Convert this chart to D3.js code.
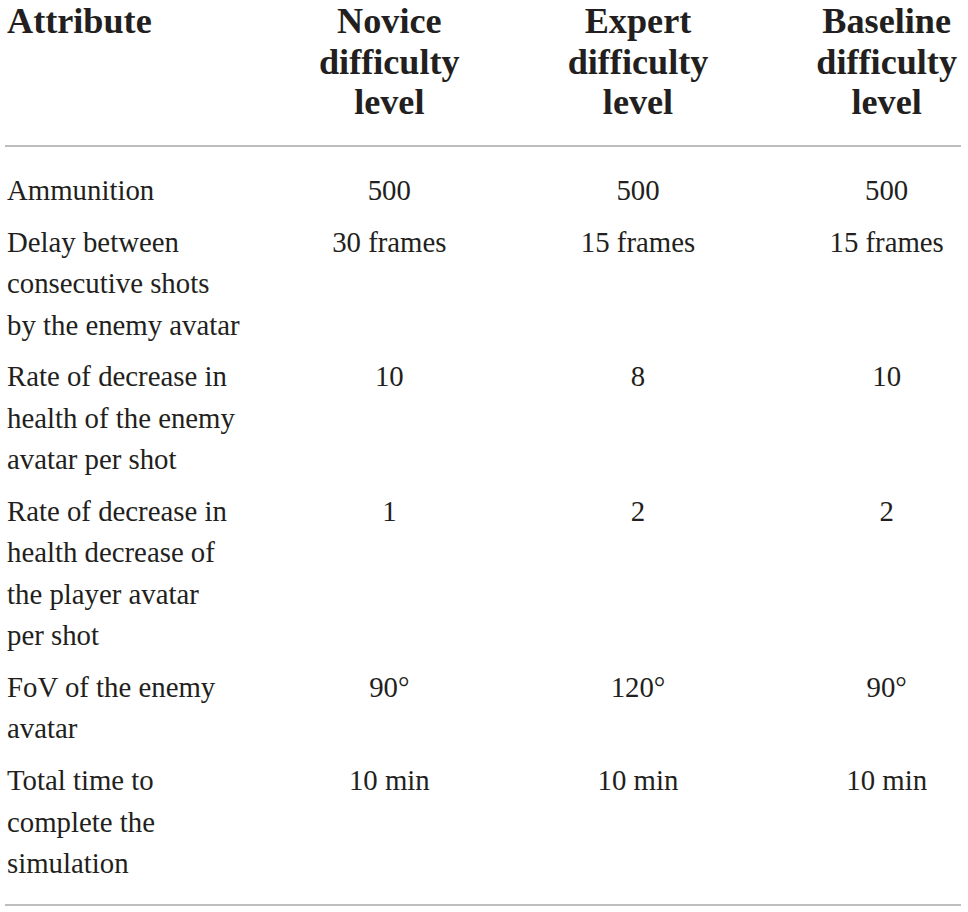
<!DOCTYPE html>
<html>
<head>
<meta charset="utf-8">
<script src="https://cdn.jsdelivr.net/npm/d3@7"></script>
<style>
  html, body { margin: 0; padding: 0; background: #fff; }
  svg { display: block; }
</style>
</head>
<body>
<div id="chart"></div>
<script>
// ---- Data ----
const attributeHeader = ["Attribute"];
const columns = ["Novice", "Expert", "Baseline"];
const columnHeaders = [
  ["Novice", "difficulty", "level"],
  ["Expert", "difficulty", "level"],
  ["Baseline", "difficulty", "level"]
];
const attributes = [
  ["Ammunition"],
  ["Delay between", "consecutive shots", "by the enemy avatar"],
  ["Rate of decrease in", "health of the enemy", "avatar per shot"],
  ["Rate of decrease in", "health decrease of", "the player avatar", "per shot"],
  ["FoV of the enemy", "avatar"],
  ["Total time to", "complete the", "simulation"]
];
const noviceValues   = ["500", "30 frames", "10", "1", "90°", "10 min"];
const expertValues   = ["500", "15 frames", "8",  "2", "120°", "10 min"];
const baselineValues = ["500", "15 frames", "10", "2", "90°", "10 min"];

// ---- Layout ----
const W = 968, H = 912;
const textColor = "#231f20";
const ruleColor = "#a8a8a8";
const bodyFont = "'Liberation Serif', 'Times New Roman', serif";
const bodySize = 28.8, headSize = 36.2;
const lineH = 41.4, headLineH = 40.5, rowGap = 10.4;
const headBase = 33, bodyStart = 200;
const leftX = 7;

const svg = d3.select("#chart").append("svg")
  .attr("width", W).attr("height", H)
  .attr("viewBox", `0 0 ${W} ${H}`);
svg.append("rect").attr("width", W).attr("height", H).attr("fill", "#fff");

const x = d3.scaleBand().domain(columns).range([265, 1011]);
const cx = c => x(c) + x.bandwidth() / 2;

// compute row start baselines
const rowStarts = [];
let yb = bodyStart;
attributes.forEach(a => { rowStarts.push(yb); yb += a.length * lineH + rowGap; });

// header
const head = svg.append("g")
  .attr("font-family", bodyFont).attr("font-size", headSize)
  .attr("font-weight", "bold").attr("fill", textColor);
head.append("text").attr("x", leftX).attr("y", headBase).text(attributeHeader[0]);
columns.forEach((c, i) => {
  head.selectAll(null).data(columnHeaders[i]).join("text")
    .attr("x", cx(c)).attr("y", (d, j) => headBase + j * headLineH)
    .attr("text-anchor", "middle").text(d => d);
});

// rules
svg.append("line").attr("x1", 5).attr("x2", 961).attr("y1", 146).attr("y2", 146)
  .attr("stroke", ruleColor).attr("stroke-width", 1.5);
svg.append("line").attr("x1", 5).attr("x2", 961).attr("y1", 905).attr("y2", 905)
  .attr("stroke", ruleColor).attr("stroke-width", 1.5);

// body
const body = svg.append("g")
  .attr("font-family", bodyFont).attr("font-size", bodySize).attr("fill", textColor);
attributes.forEach((lines, r) => {
  body.selectAll(null).data(lines).join("text")
    .attr("x", leftX).attr("y", (d, j) => rowStarts[r] + j * lineH)
    .text(d => d);
});
const valueSets = { Novice: noviceValues, Expert: expertValues, Baseline: baselineValues };
columns.forEach(c => {
  body.selectAll(null).data(valueSets[c]).join("text")
    .attr("x", cx(c)).attr("y", (d, r) => rowStarts[r])
    .attr("text-anchor", "middle").text(d => d);
});
</script>
</body>
</html>
